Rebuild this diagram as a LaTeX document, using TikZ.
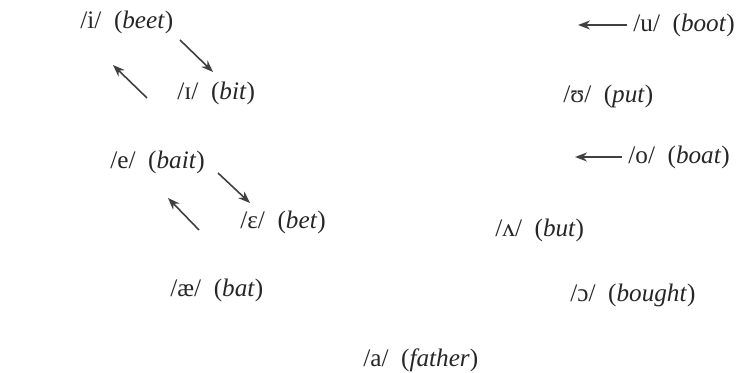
\documentclass[tikz,border=0pt]{standalone}
\usepackage{fontspec}
\setmainfont{Liberation Serif}
\usepackage{tikz}
\usetikzlibrary{arrows.meta}

\begin{document}
\begin{tikzpicture}[x=0.5pt,y=-0.5pt,
		vowel/.style={anchor=west,inner sep=0pt,font=\fontsize{12.6}{14}\selectfont,text=black!85},
		vshift/.style={-{Stealth[length=6pt,width=4.5pt]},line width=0.8pt,black!75}]
	
	\useasboundingbox (0,0) rectangle (737,373);
	
	% front vowels
	\node[vowel] (beet) at (80,22) {/i/\enspace(\textit{beet})};
	\node[vowel] (bit)  at (177,93) {/ɪ/\enspace(\textit{bit})};
	\node[vowel] (bait) at (110,162) {/e/\enspace(\textit{bait})};
	\node[vowel] (bet)  at (240,222) {/ɛ/\enspace(\textit{bet})};
	\node[vowel] (bat)  at (170,290) {/æ/\enspace(\textit{bat})};
	
	% back vowels
	\node[vowel] (boot)   at (633,25) {/u/\enspace(\textit{boot})};
	\node[vowel] (put)    at (563,96) {/ʊ/\enspace(\textit{put})};
	\node[vowel] (boat)   at (628,157) {/o/\enspace(\textit{boat})};
	\node[vowel] (but)    at (495,230) {/ʌ/\enspace(\textit{but})};
	\node[vowel] (bought) at (570,295) {/ɔ/\enspace(\textit{bought})};
	\node[vowel] (father) at (363,360) {/a/\enspace(\textit{father})};
	
	% arrow ends
	\coordinate (i1) at (180,40);
	\coordinate (i2) at (213,72);
	\coordinate (i3) at (147,98);
	\coordinate (i4) at (113,65);
	\coordinate (e1) at (218,173);
	\coordinate (e2) at (250,203);
	\coordinate (e3) at (199,230);
	\coordinate (e4) at (168,198);
	\coordinate (u1) at (578,25);
	\coordinate (o1) at (575,157);
	
	% shifts
	\draw[vshift] (i1) -- (i2);
	\draw[vshift] (i3) -- (i4);
	\draw[vshift] (e1) -- (e2);
	\draw[vshift] (e3) -- (e4);
	\draw[vshift] ([xshift=-3pt]boot.west) -- (u1);
	\draw[vshift] ([xshift=-3pt]boat.west) -- (o1);
	
\end{tikzpicture}
\end{document}
